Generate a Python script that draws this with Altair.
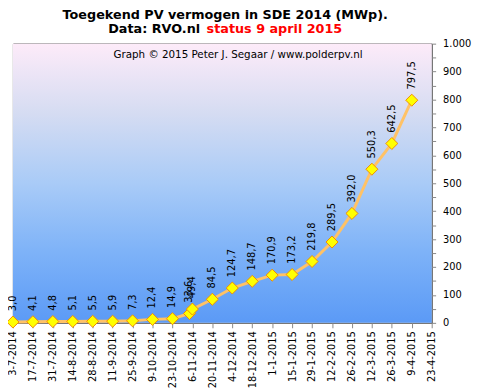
import altair as alt
import pandas as pd

dates = ["2014-07-03", "2014-07-17", "2014-07-31", "2014-08-14", "2014-08-28",
         "2014-09-11", "2014-09-25", "2014-10-09", "2014-10-23", "2014-11-04",
         "2014-11-06", "2014-11-20", "2014-12-04", "2014-12-18", "2015-01-01",
         "2015-01-15", "2015-01-29", "2015-02-12", "2015-02-26", "2015-03-12",
         "2015-03-26", "2015-04-09"]
values = [3.0, 4.1, 4.8, 5.1, 5.5, 5.9, 7.3, 12.4, 14.9, 33.6, 49.4, 84.5,
          124.7, 148.7, 170.9, 173.2, 219.8, 289.5, 392.0, 550.3, 642.5, 797.5]
tick_dates = ["2014-07-03", "2014-07-17", "2014-07-31", "2014-08-14", "2014-08-28",
              "2014-09-11", "2014-09-25", "2014-10-09", "2014-10-23", "2014-11-06",
              "2014-11-20", "2014-12-04", "2014-12-18", "2015-01-01", "2015-01-15",
              "2015-01-29", "2015-02-12", "2015-02-26", "2015-03-12", "2015-03-26",
              "2015-04-09", "2015-04-23"]
y_ticks = [0, 50, 100, 150, 200, 250, 300, 350, 400, 450, 500, 550, 600, 650,
           700, 750, 800, 850, 900, 950, 1000]

W, H = 426, 284
FONT = "DejaVu Sans"

def ms(d):
    return int(pd.Timestamp(d, tz="UTC").value // 10**6)

df = pd.DataFrame({"d": dates, "v": values})

x_enc = alt.X("d:T",
              scale=alt.Scale(type="utc", domain=[ms(tick_dates[0]), ms(tick_dates[-1])]),
              axis=alt.Axis(values=[ms(t) for t in tick_dates], title=None,
                            labelAngle=270, labelExpr="utcFormat(datum.value, '%-d-%-m-%Y')",
                            labelFont=FONT, labelFontSize=10, labelColor="black",
                            tickColor="#888888", tickSize=5, domainColor="#888888",
                            grid=False, labelPadding=3, labelOverlap=False, labelFlush=False))
y_enc = alt.Y("v:Q",
              scale=alt.Scale(domain=[0, 1000], nice=False),
              axis=alt.Axis(orient="right", values=y_ticks, title=None,
                            labelExpr="datum.value % 100 === 0 ? (datum.value === 1000 ? '1.000' : datum.label) : ''",
                            labelFont=FONT, labelFontSize=10, labelColor="black",
                            tickColor="#888888", tickSize=4, domainColor="#888888",
                            labelPadding=7, grid=True, gridColor="#c8c8c8",
                            gridOpacity={"condition": {"test": "datum.value % 100 === 0 && datum.value > 0 && datum.value < 1000", "value": 1}, "value": 0},
                            labelOverlap=False, labelFlush=False))

bg = alt.Chart(pd.DataFrame({"a": [0]})).mark_rect(
    color=alt.Gradient(gradient="linear", x1=0, x2=0, y1=0, y2=1,
                       stops=[alt.GradientStop(offset=0, color="#fdebf9"),
                              alt.GradientStop(offset=0.25, color="#d5dcf2"),
                              alt.GradientStop(offset=0.5, color="#a9cbf7"),
                              alt.GradientStop(offset=0.75, color="#7db2f8"),
                              alt.GradientStop(offset=1, color="#5b9af6")])
).encode(x=alt.value(0), x2=alt.value(W), y=alt.value(0), y2=alt.value(H))

base = alt.Chart(df).encode(x=x_enc, y=y_enc)
line = base.mark_line(color="#ffc266", strokeWidth=3)
pts = base.mark_point(shape="diamond", filled=True, fill="#ffff00", stroke="#f08c00",
                      strokeWidth=1, size=150, opacity=1)
labels = base.transform_calculate(
    lab="replace(format(datum.v, '.1f'), '.', ',')"
).mark_text(angle=270, align="left", baseline="middle", dx=11, font=FONT,
            fontSize=10, color="black").encode(text="lab:N")

t1 = alt.Chart(pd.DataFrame({"t": ["Toegekend PV vermogen in SDE 2014 (MWp)."]})).mark_text(
    font=FONT, fontSize=13, fontWeight="bold", align="center", baseline="alphabetic", color="black"
).encode(text="t:N", x=alt.value(216), y=alt.value(-25))
t2 = alt.Chart(pd.DataFrame({"t": ["Data: RVO.nl"]})).mark_text(
    font=FONT, fontSize=13, fontWeight="bold", align="left", baseline="alphabetic", color="black"
).encode(text="t:N", x=alt.value(97), y=alt.value(-11))
t3 = alt.Chart(pd.DataFrame({"t": ["status 9 april 2015"]})).mark_text(
    font=FONT, fontSize=13, fontWeight="bold", align="left", baseline="alphabetic", color="#ff0000"
).encode(text="t:N", x=alt.value(197), y=alt.value(-11))
wm = alt.Chart(pd.DataFrame({"t": ["Graph © 2015 Peter J. Segaar / www.polderpv.nl"]})).mark_text(
    font=FONT, fontSize=10.5, align="center", baseline="middle", color="black"
).encode(text="t:N", x=alt.value(229), y=alt.value(12))

chart = alt.layer(bg, line, pts, labels, t1, t2, t3, wm).properties(
    width=W, height=H,
    autosize=alt.AutoSizeParams(type="none"),
    padding={"left": 5, "top": 33, "right": 42, "bottom": 64},
).configure_view(stroke="black", strokeWidth=1)

chart.save("out.html", embed_options={"renderer": "svg", "actions": False})
